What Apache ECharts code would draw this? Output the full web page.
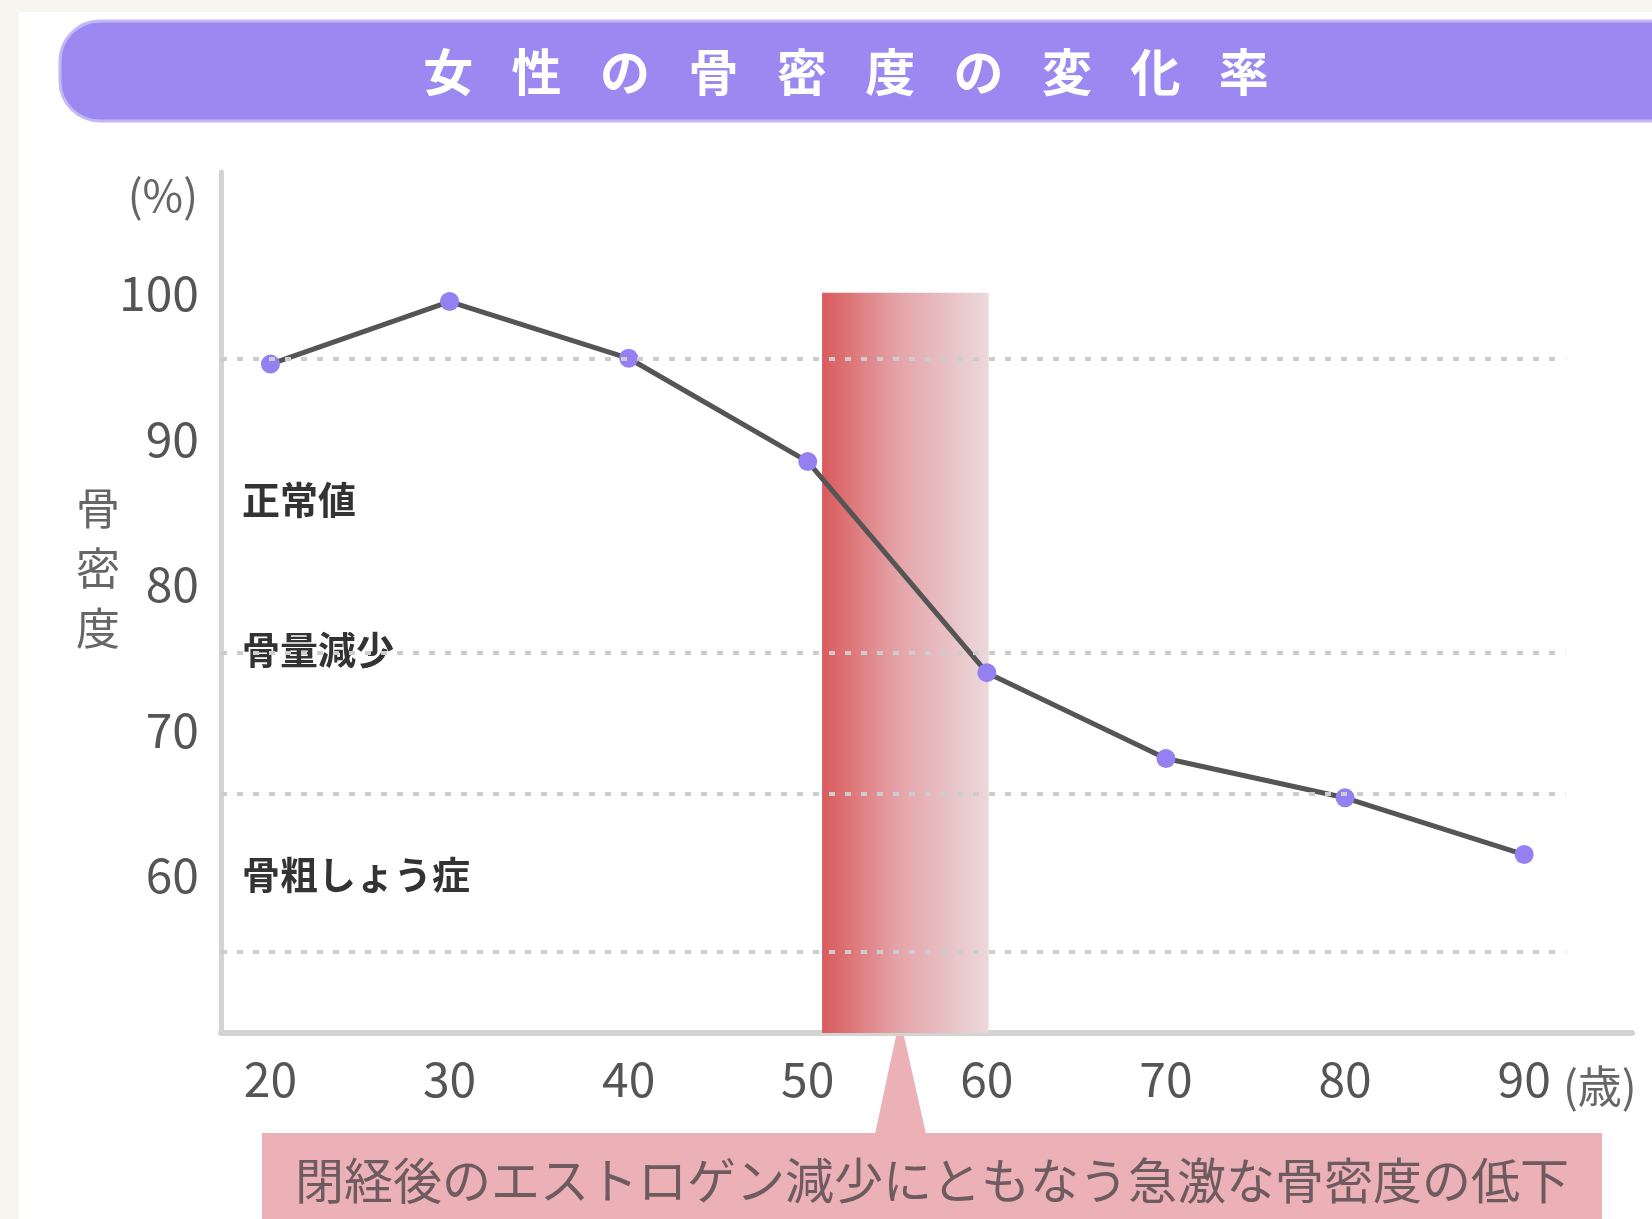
<!DOCTYPE html>
<html>
<head>
<meta charset="utf-8">
<title>女性の骨密度の変化率</title>
<style>
  html, body { margin: 0; padding: 0; background: #f6f5ee; }
  #main { width: 1652px; height: 1219px; }
</style>
</head>
<body>
<div id="main"></div>
<script src="https://cdn.jsdelivr.net/npm/echarts@6/dist/echarts.min.js"></script>
<script>
// 年齢（歳）
var ages = [20, 30, 40, 50, 60, 70, 80, 90];
// 骨密度（%）
var density = [95.1, 99.4, 95.5, 88.4, 73.9, 68.0, 65.3, 61.4];
// 目盛
var xTicks = [20, 30, 40, 50, 60, 70, 80, 90];
var yTicks = [60, 70, 80, 90, 100];
// 区分の点線
var zoneLines = [95.5, 75.3, 65.6, 54.7];
var zoneNames = ['正常値', '骨量減少', '骨粗しょう症'];
// 閉経期の帯
var menoRange = [50.8, 60.1];
var menoTop = 100;

var titleText = '女性の骨密度の変化率';
var noteText = '閉経後のエストロゲン減少にともなう急激な骨密度の低下';

var FONT = '"Noto Sans CJK JP", "Noto Sans", sans-serif';
var xMin = 17.24, xMax = 96.02, yMin = 49.14, yMax = 108.3;
var lineEnd = 92.3;

var points = ages.map(function (a, i) { return [a, density[i]]; });

var graphics = [
  // 外側のクリーム色の余白
  { type: 'rect', shape: { x: 0, y: 0, width: 1652, height: 12 }, style: { fill: '#f6f5ee' } },
  { type: 'rect', shape: { x: 0, y: 0, width: 19, height: 1219 }, style: { fill: '#f6f5ee' } },
  // タイトルバー
  { type: 'rect', shape: { x: 60, y: 21, width: 1620, height: 100, r: [40, 0, 0, 40] },
    style: { fill: '#9b88f0', stroke: '#c3b8f6', lineWidth: 3 } }
];
// タイトル文字（字間を広く）
titleText.split('').forEach(function (ch, i) {
  graphics.push({
    type: 'text', x: 846 + (i - 4.5) * 88.4, y: 72,
    style: { text: ch, fill: '#ffffff', font: 'bold 50px ' + FONT, textAlign: 'center', textVerticalAlign: 'middle' }
  });
});
graphics.push(
  { type: 'text', x: 198, y: 195,
    style: { text: '(%)', fill: '#666', font: '44px ' + FONT, textAlign: 'right', textVerticalAlign: 'middle' } },
  { type: 'text', x: 98, y: 568,
    style: { text: '骨\n密\n度', fill: '#666', font: '44px ' + FONT, lineHeight: 60, textAlign: 'center', textVerticalAlign: 'middle' } },
  { type: 'text', x: 1563, y: 1086,
    style: { text: '(歳)', fill: '#666', font: '44px ' + FONT, textAlign: 'left', textVerticalAlign: 'middle' } },
  { type: 'text', x: 242, y: 500,
    style: { text: zoneNames[0], fill: '#333', font: 'bold 38px ' + FONT, textAlign: 'left', textVerticalAlign: 'middle' } },
  { type: 'text', x: 242, y: 650,
    style: { text: zoneNames[1], fill: '#333', font: 'bold 38px ' + FONT, textAlign: 'left', textVerticalAlign: 'middle' } },
  { type: 'text', x: 242, y: 875,
    style: { text: zoneNames[2], fill: '#333', font: 'bold 38px ' + FONT, textAlign: 'left', textVerticalAlign: 'middle' } },
  // 吹き出し
  { type: 'polygon', shape: { points: [[896, 1036], [904, 1036], [926, 1134], [875, 1134]] },
    style: { fill: '#ecb1b7' } },
  { type: 'rect', shape: { x: 262, y: 1133, width: 1340, height: 100 }, style: { fill: '#ecb1b7' } },
  { type: 'text', x: 932, y: 1180,
    style: { text: noteText, fill: '#6e5b60', font: '49px ' + FONT, textAlign: 'center', textVerticalAlign: 'middle' } }
);

var myChart = echarts.init(document.getElementById('main'));
myChart.setOption({
  backgroundColor: '#ffffff',
  animation: false,
  textStyle: { fontFamily: FONT },
  grid: { left: 221, right: 20, top: 172, bottom: 186 },
  xAxis: {
    type: 'value', min: xMin, max: xMax,
    axisLine: { show: true, onZero: false, lineStyle: { color: '#d3d3d3', width: 6 } },
    axisTick: { show: false },
    splitLine: { show: false },
    axisLabel: { customValues: xTicks, fontSize: 48, color: '#555', margin: 22, fontFamily: FONT }
  },
  yAxis: {
    type: 'value', min: yMin, max: yMax,
    axisLine: { show: true, lineStyle: { color: '#d3d3d3', width: 5 } },
    axisTick: { show: false },
    splitLine: { show: false },
    axisLabel: { customValues: yTicks, fontSize: 48, color: '#555', margin: 22, fontFamily: FONT }
  },
  graphic: graphics,
  series: [
    {
      // 閉経期の帯
      type: 'line', data: [], z: 1, silent: true,
      markArea: {
        silent: true,
        itemStyle: {
          color: new echarts.graphic.LinearGradient(0, 0, 1, 0, [
            { offset: 0, color: '#d95a5d' },
            { offset: 0.45, color: '#e4a3a7' },
            { offset: 1, color: '#ebd9dc' }
          ])
        },
        data: [[{ coord: [menoRange[0], menoTop] }, { coord: [menoRange[1], yMin] }]]
      }
    },
    {
      // 区分の点線
      type: 'line', data: [], z: 2, silent: true,
      markLine: {
        silent: true, symbol: 'none',
        label: { show: false },
        lineStyle: { color: '#cdcdcd', width: 4, type: [6, 10] },
        data: zoneLines.map(function (v) {
          return [{ coord: [xMin, v] }, { coord: [lineEnd, v] }];
        })
      }
    },
    {
      type: 'line', z: 3,
      data: points,
      symbol: 'circle', symbolSize: 19,
      itemStyle: { color: '#9580f2' },
      lineStyle: { color: '#555', width: 5 }
    }
  ]
});
</script>
</body>
</html>
